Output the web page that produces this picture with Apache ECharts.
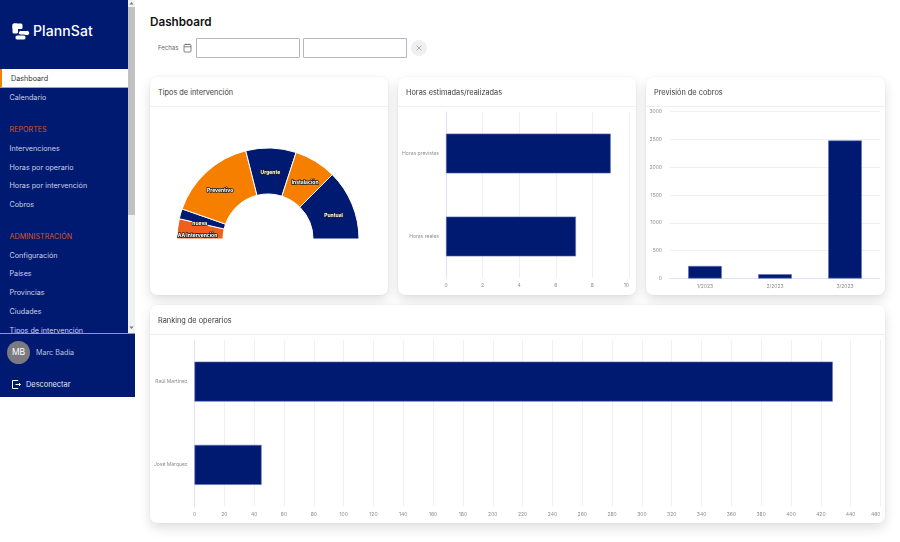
<!DOCTYPE html>
<html lang="es">
<head>
<meta charset="utf-8">
<title>PlannSat - Dashboard</title>
<script src="https://cdn.jsdelivr.net/npm/echarts@6/dist/echarts.min.js"></script>
<style>
html,body{margin:0;padding:0;width:900px;height:542px;overflow:hidden;background:#fff;font-family:Inter,"Open Sans",sans-serif;}
.abs{position:absolute;}
#side{position:absolute;left:0;top:0;width:128px;height:333px;background:#001a72;overflow:hidden;}
#track{position:absolute;left:128px;top:0;width:7px;height:333px;background:#f1f1f1;}
#thumb{position:absolute;left:128px;top:7px;width:7px;height:208px;background:#c1c1c1;}
.it{position:absolute;left:9.5px;font-size:7.2px;line-height:12px;color:#c9cfe6;white-space:nowrap;transform:translateY(1px);}
.sec{color:#d9541e;}
#active{position:absolute;left:0;top:69px;width:128px;height:19px;background:#fff;border-left:2px solid #f77f00;box-sizing:border-box;border-bottom:1px solid #9aa6d0;}
#foot{position:absolute;left:0;top:333px;width:135px;height:64px;background:#001a72;border-top:1px solid #8d97c4;box-sizing:border-box;}
.card{position:absolute;background:#fff;border-radius:7px;box-shadow:0 5px 12px rgba(0,0,0,.13),0 0 2px rgba(0,0,0,.08);}
.card .h{position:absolute;left:0;right:0;top:0;height:30px;border-bottom:1px solid #eeeff2;box-sizing:border-box;font-size:7.35px;line-height:32px;padding-left:8px;color:#3a3a3a;}
.chart{position:absolute;left:0;top:0;width:100%;height:100%;}
.inp{position:absolute;top:38px;width:104px;height:20px;border:1px solid #b4b4c4;box-sizing:border-box;border-radius:1px;background:#fff;}
</style>
</head>
<body>
<div id="side">
  <svg class="abs" style="left:12px;top:22px" width="20" height="20" viewBox="0 0 20 20">
    <rect x="0.5" y="1.5" width="10" height="5.5" rx="1.5" fill="#fff"/>
    <rect x="0.5" y="1.5" width="5.5" height="10" rx="1.5" fill="#fff"/>
    <rect x="6.5" y="8.5" width="11" height="5" rx="2" fill="#fff" stroke="#001a72" stroke-width="1"/>
    <rect x="3" y="13" width="11" height="5" rx="2" fill="#fff" stroke="#001a72" stroke-width="1"/>
  </svg>
  <div class="abs" style="left:33px;top:22px;font-size:14px;line-height:18px;color:#fff;font-weight:500;letter-spacing:.1px">PlannSat</div>
  <div id="active"></div>
  <div class="it" style="left:11px;top:72px;color:#333">Dashboard</div>
  <div class="it" style="top:91px">Calendario</div>
  <div class="it sec" style="top:123px">REPORTES</div>
  <div class="it" style="top:142px">Intervenciones</div>
  <div class="it" style="top:160.5px">Horas por operario</div>
  <div class="it" style="top:179px">Horas por intervención</div>
  <div class="it" style="top:198px">Cobros</div>
  <div class="it sec" style="top:230px">ADMINISTRACIÓN</div>
  <div class="it" style="top:249px">Configuración</div>
  <div class="it" style="top:267px">Países</div>
  <div class="it" style="top:286px">Provincias</div>
  <div class="it" style="top:305px">Ciudades</div>
  <div class="it" style="top:323.5px">Tipos de intervención</div>
</div>
<div id="track"></div><div id="thumb"></div>
<svg class="abs" style="left:128px;top:0" width="7" height="333" viewBox="0 0 7 333" fill="#777">
  <path d="M3.5 2l2 2.5h-4z"/><path d="M3.5 329l2-2.5h-4z"/>
</svg>
<div id="foot">
  <div class="abs" style="left:7px;top:7px;width:23px;height:23px;border-radius:50%;background:#7a7a80;color:#fff;font-size:8.5px;line-height:23px;text-align:center">MB</div>
  <div class="abs" style="left:36px;top:13px;font-size:7.2px;line-height:12px;color:#b9c0dd">Marc Badia</div>
  <svg class="abs" style="left:11px;top:45px" width="11" height="11" viewBox="0 0 11 11" fill="none" stroke="#fff" stroke-width="1">
    <path d="M7 2V1.5H1.5v8H7V9"/><path d="M4.5 5.5H9.5M8 4l1.5 1.5L8 7"/>
  </svg>
  <div class="abs" style="left:26px;top:44.5px;font-size:7.4px;line-height:12px;color:#e4e7f3">Desconectar</div>
</div>

<div class="abs" style="left:150px;top:14px;font-size:11.7px;line-height:17px;font-weight:600;color:#111">Dashboard</div>
<div class="abs" style="left:158px;top:42px;font-size:6px;line-height:12px;color:#666">Fechas</div>
<svg class="abs" style="left:183px;top:43px" width="9" height="10" viewBox="0 0 9 10" fill="none" stroke="#666" stroke-width=".8">
  <rect x="1" y="1.5" width="7" height="7.5" rx="1"/><path d="M1 3.8H8M3 .5V2M6 .5V2"/>
</svg>
<div class="inp" style="left:196px"></div>
<div class="inp" style="left:303px"></div>
<svg class="abs" style="left:411px;top:40px" width="16" height="16" viewBox="0 0 16 16">
  <circle cx="8" cy="8" r="8" fill="#f0f0f2"/><path d="M5.5 5.5l5 5M10.5 5.5l-5 5" stroke="#999" stroke-width=".8"/>
</svg>

<div class="card" style="left:150px;top:77px;width:238px;height:218px"><div class="h">Tipos de intervención</div><div id="c1" class="chart"></div></div>
<div class="card" style="left:398px;top:77px;width:238px;height:218px"><div class="h">Horas estimadas/realizadas</div><div id="c2" class="chart"></div></div>
<div class="card" style="left:646px;top:77px;width:239px;height:218px"><div class="h">Previsión de cobros</div><div id="c3" class="chart"></div></div>
<div class="card" style="left:150px;top:305px;width:735px;height:218px"><div class="h">Ranking de operarios</div><div id="c4" class="chart"></div></div>

<script>
// datos del dashboard
var tiposNombres=['AA Intervención','nueva','Preventivo','Urgente','Instalación','Puntual'];
var tiposValores=[10,5,44,25,21,35];
var tiposColores=['#f0601a','#001a72','#f77f00','#001a72','#f77f00','#001a72'];
var horasCategorias=['Horas previstas','Horas reales'];
var horasValores=[9,7.1];
var cobrosMeses=['1/2023','2/2023','3/2023'];
var cobrosValores=[225,78,2480];
var operarios=['Raúl Martínez','José Márquez'];
var operariosValores=[428,45];

var NAVY='#001a72',FONT='Inter';
var barStyle={color:NAVY,borderColor:'#5f70b5',borderWidth:0.6};
var lineaGrid={show:true,lineStyle:{color:'#eef0f4',width:1}};
var lineaEje={show:true,lineStyle:{color:'#dfe3f3',width:1}};
var etiqueta={fontFamily:FONT,fontSize:5,color:'#8c8c8c'};
function sinMiles(v){return String(v);}

function init(id){return echarts.init(document.getElementById(id),null,{renderer:'canvas'});}

// barras horizontales, comun a horas y ranking
function barrasH(id,grid,cats,vals,max,interval){
	grid.outerBoundsMode='none';
	init(id).setOption({
		animation:false,
		grid:grid,
		xAxis:{type:'value',min:0,max:max,interval:interval,position:'bottom',
			axisLine:{show:false},axisTick:{show:false},splitLine:lineaGrid,
			axisLabel:Object.assign({margin:5,formatter:sinMiles,hideOverlap:false,alignMaxLabel:'right'},etiqueta)},
		yAxis:{type:'category',data:cats,inverse:true,
			axisLine:lineaEje,axisTick:{show:false},
			axisLabel:Object.assign({margin:7,padding:[2,0,0,0]},etiqueta)},
		series:[{type:'bar',data:vals,barWidth:'48%',itemStyle:barStyle}]
	});
}

init('c1').setOption({
	animation:false,
	series:[{
		type:'pie',
		center:[118,162],
		radius:[45,91],
		startAngle:180,
		endAngle:360,
		data:tiposNombres.map(function(n,i){
			return {name:n,value:tiposValores[i],itemStyle:{color:tiposColores[i]}};
		}),
		itemStyle:{borderColor:'#fff',borderWidth:1},
		label:{show:true,position:'inside',fontFamily:FONT,fontSize:5,fontWeight:'bold',color:'#fff',
			textBorderColor:'#222',textBorderWidth:1.5},
		labelLayout:{dy:4},
		labelLine:{show:false}
	}]
});

barrasH('c2',{left:48,right:7,top:35,bottom:17},horasCategorias,horasValores,10,2);

init('c3').setOption({
	animation:false,
	grid:{left:24,right:5,top:34.5,bottom:16.5,outerBoundsMode:'none'},
	xAxis:{type:'category',data:cobrosMeses,axisLine:lineaEje,axisTick:{show:false},
		axisLabel:Object.assign({margin:5},etiqueta)},
	yAxis:{type:'value',min:0,max:3000,interval:500,axisLine:{show:false},axisTick:{show:false},
		splitLine:lineaGrid,axisLabel:Object.assign({margin:8,formatter:sinMiles},etiqueta)},
	series:[{type:'bar',data:cobrosValores,barWidth:'48%',itemStyle:barStyle}]
});

barrasH('c4',{left:44.5,right:4.5,top:35,bottom:16.5},operarios,operariosValores,460,20);
</script>
</body>
</html>
